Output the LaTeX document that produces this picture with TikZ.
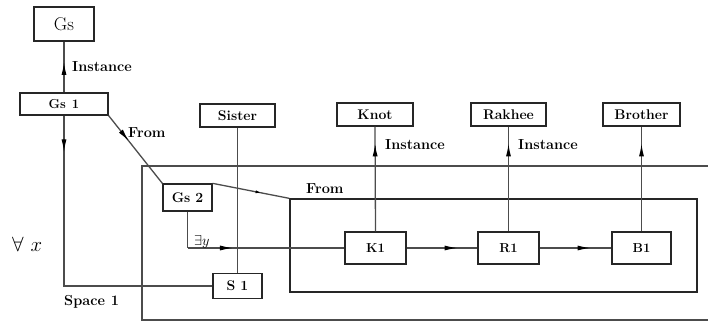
\documentclass[tikz,border=0pt]{standalone}
\usepackage{fontspec}
\usetikzlibrary{arrows.meta,decorations.markings}
\tikzset{
  box/.style={draw=black!85, line width=1.3pt, inner sep=0pt, font=\fontsize{14}{16}\selectfont\bfseries},
  conn/.style={draw=black!70, line width=1.3pt},
  midarr/.style={postaction={decorate},decoration={markings,mark=at position #1 with {\arrow[black]{Latex[length=13pt,width=5pt]}}}},
  smallarr/.style={postaction={decorate},decoration={markings,mark=at position #1 with {\arrow[black]{Latex[length=7pt,width=3pt]}}}},
  lbl/.style={inner sep=0pt, anchor=west, font=\fontsize{14.5}{16}\selectfont\bfseries},
}
\begin{document}
\begin{tikzpicture}[x=1pt,y=-1pt]
\useasboundingbox (0,0) rectangle (708,322);
% boxes
\node[box, minimum width=60pt, minimum height=34pt, font=\fontsize{18.5}{20}\selectfont] (gs) at (64,24) {Gs};
\node[box, minimum width=88pt, minimum height=22pt, font=\fontsize{13}{14}\selectfont\bfseries] (gs1) at (64,104) {Gs\hspace{6pt}1};
\node[box, minimum width=75pt, minimum height=23pt] (sister) at (237.5,115.5) {Sister};
\node[box, minimum width=76pt, minimum height=23pt] (knot) at (375,114.5) {Knot};
\node[box, minimum width=75pt, minimum height=23pt] (rakhee) at (508.5,114.5) {Rakhee};
\node[box, minimum width=77pt, minimum height=23pt] (brother) at (641.5,114.5) {Brother};
\node[box, minimum width=49pt, minimum height=27pt] (gs2) at (187.5,197.5) {Gs\hspace{5pt}2};
\node[box, minimum width=49pt, minimum height=25pt] (s1) at (237.5,286) {S\hspace{5pt}1};
\node[box, minimum width=61pt, minimum height=32pt, font=\fontsize{13}{14}\selectfont\bfseries] (k1) at (375.5,248) {K1};
\node[box, minimum width=61pt, minimum height=32pt, font=\fontsize{13}{14}\selectfont\bfseries] (r1) at (508.5,248) {R1};
\node[box, minimum width=59pt, minimum height=32pt, font=\fontsize{13}{14}\selectfont\bfseries] (b1) at (641.5,248) {B1};
% outer (open to the right) and inner rectangles
\coordinate (otl) at (142,166);
\coordinate (otr) at (708,166);
\coordinate (obl) at (142,320);
\coordinate (obr) at (708,320);
\draw[conn] (otr) -- (otl) -- (obl) -- (obr);
\node[draw=black!85, line width=1.3pt, inner sep=0pt, minimum width=407pt, minimum height=93pt] (inner) at (493.5,245.5) {};
% connectors
\path[conn, midarr=0.6] (gs1.north) -- (gs.south);
\path[conn, midarr=0.115] (gs1.south) |- (s1.west);
\path[conn, midarr=0.38] (gs1.south east) -- (gs2.north west);
\path[conn, smallarr=0.65] (gs2.north east) -- (inner.north west);
\path[conn] (sister.south) -- (s1.north);
\coordinate (ecorner) at (187.5,248);
\draw[conn] (gs2.south) -- (ecorner);
\path[conn, midarr=0.29] (ecorner) -- (k1.west);
\path[conn, midarr=0.72] (k1.east) -- (r1.west);
\path[conn, midarr=0.71] (r1.east) -- (b1.west);
\path[conn, midarr=0.84] (k1.north) -- (knot.south);
\path[conn, midarr=0.84] (r1.north) -- (rakhee.south);
\path[conn, midarr=0.84] (b1.north) -- (brother.south);
% labels
\node[lbl] (lInst0) at (72,67) {Instance};
\node[lbl] (lFrom0) at (128,133) {From};
\node[lbl] (lFrom1) at (306,189) {From};
\node[lbl] (lInst1) at (385,145) {Instance};
\node[lbl] (lInst2) at (518,145) {Instance};
\node[lbl] (lSpace) at (64,302) {Space\hspace{6pt}1};
\node[lbl, font=\fontsize{15}{16}\selectfont] (lExists) at (194,242) {$\exists y$};
\node[lbl, font=\fontsize{20}{22}\selectfont] (lForall) at (12,244) {$\forall\hspace{7pt}x$};
\end{tikzpicture}
\end{document}
